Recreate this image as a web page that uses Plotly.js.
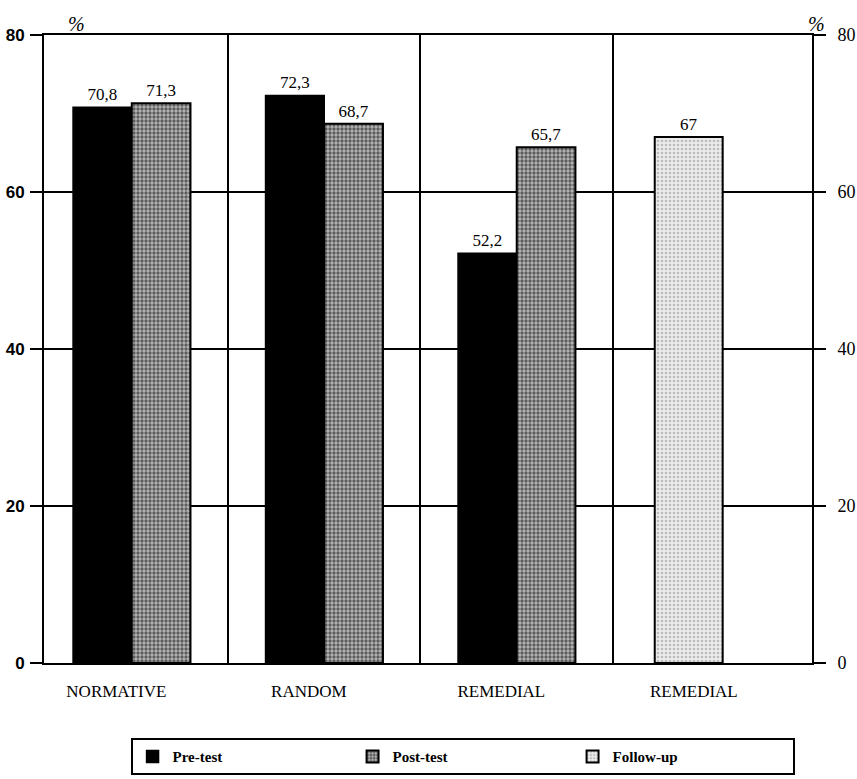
<!DOCTYPE html>
<html>
<head>
<meta charset="utf-8">
<script src="https://cdn.plot.ly/plotly-3.0.1.min.js"></script>
<style>html,body{margin:0;padding:0;background:#fff;}#chart{width:857px;height:779px;}</style>
</head>
<body>
<div id="chart"></div>
<script>
// Data
const groups = ["NORMATIVE", "RANDOM", "REMEDIAL", "REMEDIAL"];
const groupIndex = [0, 1, 2, 3];
const preTest = [70.8, 72.3, 52.2];
const postTest = [71.3, 68.7, 65.7];
const followUp = [67];
const preLabels = ["70,8", "72,3", "52,2"];
const postLabels = ["71,3", "68,7", "65,7"];
const followLabels = ["67"];
const yTicks = [0, 20, 40, 60, 80];

const serif = "Liberation Serif, Times New Roman, serif";
const sans = "Liberation Sans, Arial, sans-serif";

const traces = [
  {
    type: "bar", name: "Pre-test",
    x: groupIndex.slice(0, 3), y: preTest,
    text: preLabels, textposition: "outside", cliponaxis: false,
    textfont: {family: serif, size: 17, color: "#000"},
    offset: -0.305, width: 0.305,
    marker: {color: "#000", line: {color: "#000", width: 1.5}},
    hoverinfo: "skip"
  },
  {
    type: "bar", name: "Post-test",
    x: groupIndex.slice(0, 3), y: postTest,
    text: postLabels, textposition: "outside", cliponaxis: false,
    textfont: {family: serif, size: 17, color: "#000"},
    offset: 0, width: 0.305,
    marker: {color: "#ffffff", line: {color: "#000", width: 2},
      pattern: {shape: ".", fgcolor: "#000", bgcolor: "#b8b8b8", size: 4, solidity: 0.55, fillmode: "overlay"}},
    hoverinfo: "skip"
  },
  {
    type: "bar", name: "Follow-up", yaxis: "y2",
    x: groupIndex.slice(3, 4), y: followUp,
    text: followLabels, textposition: "outside", cliponaxis: false,
    textfont: {family: serif, size: 17, color: "#000"},
    offset: -0.283, width: 0.353,
    marker: {color: "#ffffff", line: {color: "#000", width: 2},
      pattern: {shape: ".", fgcolor: "#8a8a8a", bgcolor: "#ececec", size: 4, solidity: 0.35, fillmode: "overlay"}},
    hoverinfo: "skip"
  }
];

// short tick stubs on the outer right side, one per y tick value
const rightTickShapes = yTicks.map(v => ({
  type: "line", xref: "paper", yref: "y", x0: 1, x1: 1.015, y0: v, y1: v,
  line: {color: "#000", width: 2}, layer: "above"
}));

const layout = {
  width: 857, height: 779,
  margin: {l: 44, r: 45, t: 35, b: 116, autoexpand: false},
  paper_bgcolor: "#fff", plot_bgcolor: "#fff",
  barmode: "overlay",
  showlegend: true,
  xaxis: {
    range: [-0.456, 3.534],
    tickvals: groupIndex.map(i => i - 0.08),
    ticktext: groups,
    ticks: "", showgrid: false, zeroline: false,
    showline: true, linecolor: "#000", linewidth: 2, mirror: true,
    ticklabelstandoff: 12,
    tickfont: {family: serif, size: 17, color: "#000"},
    minor: {tickvals: [0.5, 1.5, 2.5], showgrid: true, gridcolor: "#000", gridwidth: 2, ticks: ""}
  },
  yaxis: {
    range: [0, 80], tickvals: yTicks,
    showgrid: true, gridcolor: "#000", gridwidth: 2,
    zeroline: false,
    showline: true, linecolor: "#000", linewidth: 2, mirror: "allticks",
    ticks: "outside", ticklen: 12, tickwidth: 2, tickcolor: "#000",
    ticklabelstandoff: 2,
    tickfont: {family: sans, size: 17, color: "#000", weight: "bold"}
  },
  yaxis2: {
    range: [0, 80], tickvals: yTicks, overlaying: "y", side: "right", anchor: "x",
    showgrid: false, zeroline: false,
    showline: true, linecolor: "#000", linewidth: 2,
    ticks: "outside", ticklen: 12, tickwidth: 2, tickcolor: "#000",
    ticklabelstandoff: 8,
    tickfont: {family: serif, size: 18, color: "#000"}
  },
  shapes: rightTickShapes,
  legend: {
    orientation: "h", xref: "paper", yref: "paper",
    x: 0.545, xanchor: "center", y: -0.12, yanchor: "top",
    bordercolor: "#000", borderwidth: 2, bgcolor: "#fff",
    entrywidth: 175, entrywidthmode: "pixels",
    font: {family: serif, size: 15, color: "#000", weight: "bold"},
    traceorder: "normal"
  },
  annotations: [
    {xref: "paper", yref: "paper", x: 0.028, y: 1.0, yshift: 24, text: "<i>%</i>", showarrow: false,
     font: {family: serif, size: 20, color: "#000"}},
    {xref: "paper", yref: "paper", x: 1.02, y: 1.0, yshift: 24, text: "<i>%</i>", showarrow: false,
     font: {family: serif, size: 20, color: "#000"}}
  ]
};

Plotly.newPlot("chart", traces, layout, {displayModeBar: false, staticPlot: true});
</script>
</body>
</html>
